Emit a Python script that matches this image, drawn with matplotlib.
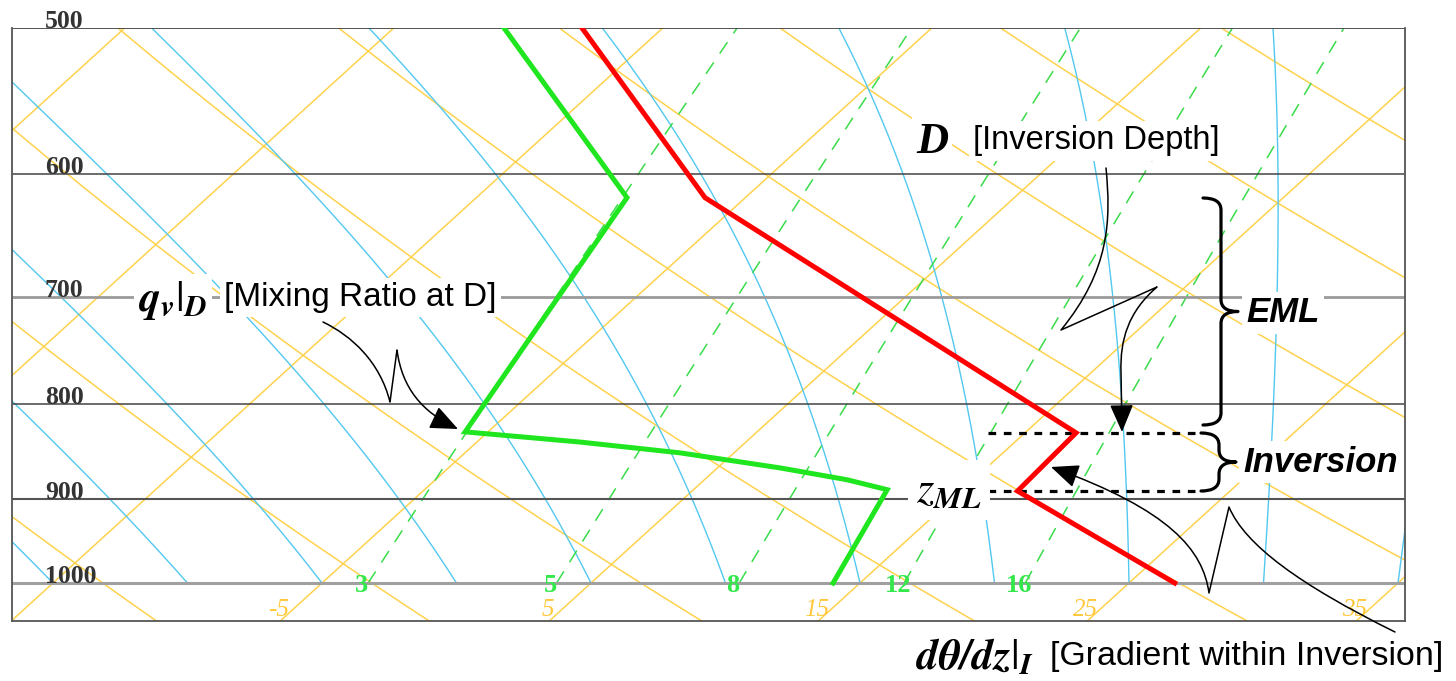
import numpy as np
import matplotlib
matplotlib.use("Agg")
import matplotlib.pyplot as plt
from matplotlib.path import Path
from matplotlib.patches import PathPatch, FancyArrowPatch
from matplotlib.transforms import Affine2D
from matplotlib.ticker import NullLocator

plt.rcParams["mathtext.fontset"] = "stix"

# sounding (hPa, degC)
p_temp = [1000, 891.5, 829, 618, 500]
temp = [26.7, 17.1, 16.9, -6.5, -18.0]
p_dew = [1000, 890, 879, 866, 850, 838.5, 828, 618, 500]
dewp = [14.0, 12.2, 10.3, 7.3, 3.0, -1.2, -5.85, -9.4, -20.9]

# background lines of the diagram
isotherms = [-75, -65, -55, -45, -35, -25, -15, -5, 5, 15, 25, 35]
isotherm_labels = [-5, 5, 15, 25, 35]
dry_adiabats = [230, 240, 250, 260, 270, 280, 290, 300, 310, 320, 330, 340, 350, 360, 370]
moist_adiabats = [-15, -10, -5, 0, 5, 10, 15, 20, 25, 30, 35]
mixing_ratios = [3, 5, 8, 12, 16]
p_levels = [500, 600, 700, 800, 900, 1000]

SKEW = 32.7
P_BOT, P_TOP = 1048.6, 500.0
W, H = 1456, 681

YEL = "#FFD24D"
BLUE = "#52C8F0"
GDASH = "#3ADC4A"


def skew(T, p):
    return np.asarray(T, float) + SKEW * np.log(1000.0 / np.asarray(p, float))


def moist_T(t0, p):
    Rd, Cp, Lv, eps = 287.04, 1005.7, 2.501e6, 0.622

    def rate(T, pp):
        es = 6.112 * np.exp(17.67 * (T - 273.15) / (T - 29.65))
        rs = eps * es / (pp - es)
        return (Rd * T + Lv * rs) / (pp * (Cp + Lv ** 2 * rs * eps / (Rd * T ** 2)))

    T = t0 + 273.15
    out = [T]
    for i in range(1, len(p)):
        h = p[i] - p[i - 1]
        k1 = rate(T, p[i - 1])
        k2 = rate(T + h * k1 / 2, p[i - 1] + h / 2)
        k3 = rate(T + h * k2 / 2, p[i - 1] + h / 2)
        k4 = rate(T + h * k3, p[i])
        T = T + h * (k1 + 2 * k2 + 2 * k3 + k4) / 6
        out.append(T)
    return np.array(out) - 273.15


def dewpoint_of_w(w, p):
    e = w * p / (622.0 + w)
    a = np.log(e / 6.112)
    return 243.5 * a / (17.67 - a)


fig = plt.figure(figsize=(W / 100, H / 100), dpi=100)
ax = fig.add_axes([12 / W, 60 / H, 1393 / W, 593 / H])
ax.set_yscale("log")
ax.set_ylim(P_BOT, P_TOP)
ax.set_xlim((12 - 456.5) / 26.9, (1405 - 456.5) / 26.9)
ax.set_xticks([])
ax.set_yticks([])
ax.yaxis.set_minor_locator(NullLocator())
ax.xaxis.set_minor_locator(NullLocator())
for s in ["left", "right", "bottom"]:
    ax.spines[s].set_color("#555555")
    ax.spines[s].set_linewidth(1.3)
ax.spines["top"].set_visible(False)

p_full = np.geomspace(P_BOT, P_TOP, 80)
for t in isotherms:
    ax.plot(skew(np.full_like(p_full, t), p_full), p_full, color=YEL, lw=1.1, zorder=1)
for th in dry_adiabats:
    tt = th * (p_full / 1000.0) ** 0.2857 - 273.15
    ax.plot(skew(tt, p_full), p_full, color=YEL, lw=1.1, zorder=1)

p_m = np.linspace(1000, P_TOP, 201)
for t0 in moist_adiabats:
    ax.plot(skew(moist_T(t0, p_m), p_m), p_m, color=BLUE, lw=1.0, zorder=1.1)

p_w = np.geomspace(1000, P_TOP, 40)
for w in mixing_ratios:
    td = dewpoint_of_w(w, p_w)
    ax.plot(skew(td, p_w), p_w, color=GDASH, lw=1.1, dashes=(9, 7), zorder=1.2)
    ax.annotate(str(w), (skew(td[0], 1000), 1000), xytext=(-4.5, -1.5),
                textcoords="offset points", ha="center", va="center",
                family="Liberation Serif", weight="bold", size=19, color="#33E84A",
                zorder=2.5)

for t in isotherm_labels:
    ax.annotate(str(t), (skew(t, P_BOT), P_BOT), xytext=(-1, 0),
                textcoords="offset points", ha="center", va="bottom",
                family="Liberation Serif", style="italic", size=18, color="#FFC83A",
                zorder=2.5)

# pressure lines
lev_color = ["#444444", "#444444", "#9A9A9A", "#444444", "#555555", "#A0A0A0"]
lev_lw = [1.3, 1.1, 2.0, 1.1, 1.5, 2.2]
for p, c, lw in zip(p_levels, lev_color, lev_lw):
    ax.axhline(p, color=c, lw=lw, zorder=2)
    ax.text(33 / 1393, p, str(p), transform=ax.get_yaxis_transform(),
            ha="left", va="baseline", family="Liberation Serif", weight="bold",
            size=18.5, color="#333333", zorder=2.6)

# sounding
ax.plot(skew(temp, p_temp), p_temp, color="#FF0000", lw=3.6, zorder=4,
        solid_joinstyle="miter")
ax.plot(skew(dewp, p_dew), p_dew, color="#1FE61F", lw=3.6, zorder=4,
        solid_joinstyle="miter")

# dashed inversion bounds
x0, x1 = (988 - 456.5) / 26.9, (1203 - 456.5) / 26.9
for p in (p_temp[2], p_temp[1]):
    ax.plot([x0, x1], [p, p], color="black", lw=2.3, dashes=(2.4, 2.4), zorder=3.5)

# annotations in picture pixels
tr = Affine2D().scale(1 / W, -1 / H).translate(0, 1) + fig.transFigure
white = dict(facecolor="white", edgecolor="none", pad=3)


def ptext(x, y, s, **kw):
    fig.text(x / W, 1 - y / H, s, **kw)


ptext(916, 153, "D", family="Liberation Serif", weight="bold", style="italic",
      size=32, va="baseline", bbox=white)
ptext(973, 141, "[Inversion Depth]", family="Liberation Sans", size=23.5,
      va="center", bbox=white)
ptext(138, 300, r"$\mathbfit{q}_{\mathbfit{v}}|_{\mathbfit{D}}$", size=31,
      va="center", bbox=white)
ptext(224, 297, "[Mixing Ratio at D]", family="Liberation Sans", size=24,
      va="center", bbox=white)
ptext(1246, 313, "EML", family="Liberation Sans", weight="bold", style="italic",
      size=25, va="center", bbox=white)
ptext(1243, 462, "Inversion", family="Liberation Sans", weight="bold",
      style="italic", size=25, va="center", bbox=white)
ptext(916, 490, r"$\mathit{z}_{\mathbfit{ML}}$", size=32, va="center",
      bbox=dict(facecolor="white", edgecolor="none", pad=6))
ptext(916, 657, r"$\mathbfit{d\theta/dz}|_{\mathbfit{I}}$", size=31, va="center")
ptext(1050, 656, "[Gradient within Inversion]", family="Liberation Sans",
      size=24.5, va="center")


def brace(xa, ya, yb, xm, xt):
    ym = (ya + yb) / 2
    r = min(12, (yb - ya) / 4)
    v = [(xa, ya), (xm, ya), (xm, ya + r), (xm, ym - r), (xm, ym), (xt, ym),
         (xm, ym), (xm, ym + r), (xm, yb - r), (xm, yb), (xa, yb)]
    c = [Path.MOVETO, Path.CURVE3, Path.CURVE3, Path.LINETO, Path.CURVE3,
         Path.CURVE3, Path.CURVE3, Path.CURVE3, Path.LINETO, Path.CURVE3, Path.CURVE3]
    fig.add_artist(PathPatch(Path(v, c), transform=tr, fill=False, lw=2.3,
                             color="black", joinstyle="round", capstyle="round"))


brace(1203, 198, 425, 1221, 1238)
brace(1201, 433, 491, 1219, 1236)


def squiggle(v, c):
    fig.add_artist(FancyArrowPatch(path=Path(v, c), transform=tr,
                                   arrowstyle="-|>,head_length=0.75,head_width=0.32",
                                   mutation_scale=23, lw=1.1, color="black"))


M, L, C4 = Path.MOVETO, Path.LINETO, Path.CURVE4
squiggle([(1106, 168), (1111, 220), (1110, 270), (1061, 330), (1157, 287),
          (1128, 312), (1120, 340), (1121, 372), (1122, 432)],
         [M, C4, C4, C4, L, C4, C4, C4, L])
squiggle([(323, 322), (352, 336), (380, 362), (390, 402), (397, 350),
          (402, 388), (422, 412), (458, 429)],
         [M, C4, C4, C4, L, C4, C4, C4])
squiggle([(1395, 632), (1300, 585), (1245, 545), (1229, 507), (1209, 593),
          (1203, 550), (1170, 510), (1051, 467)],
         [M, C4, C4, C4, L, C4, C4, C4])

fig.savefig("out.png", dpi=100)
